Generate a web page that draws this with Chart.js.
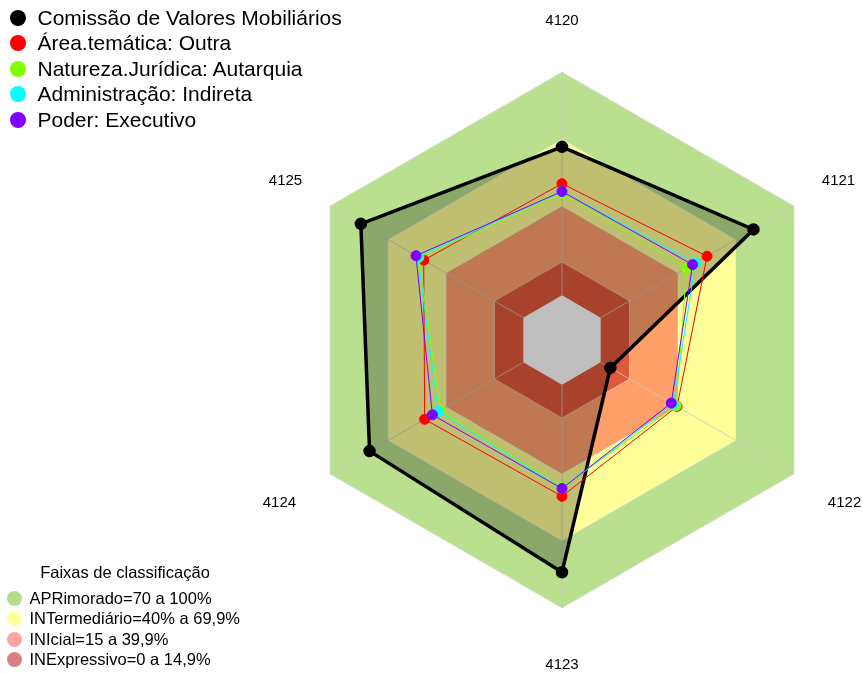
<!DOCTYPE html>
<html>
<head>
<meta charset="utf-8">
<title>Radar</title>
<script src="https://cdn.jsdelivr.net/npm/chart.js@4.4.0/dist/chart.umd.min.js"></script>
<style>
  html, body { margin: 0; padding: 0; background: #fff; overflow: hidden; }
  #wrap { position: relative; width: 863px; height: 673px; overflow: hidden; }
  #radar { position: absolute; left: 0; top: 0; }
  .legend { position: absolute; font-family: "Liberation Sans", Arial, sans-serif; color: #000; }
  .legend .row { display: flex; align-items: center; white-space: nowrap; }
  .legend .dot { border-radius: 50%; flex: none; }
  #seriesLegend { left: 10px; top: 5px; font-size: 21px; }
  #seriesLegend .row { height: 25.5px; }
  #seriesLegend .dot { width: 16px; height: 16px; margin-right: 11.5px; }
  #bandLegend { left: 7px; top: 562px; font-size: 16.5px; }
  #bandLegend .title { width: 236px; font-size: 16.5px; text-align: center; height: 26px; line-height: 20px; }
  #bandLegend .row { height: 20.5px; }
  #bandLegend .dot { width: 15px; height: 15px; margin-right: 7.5px; }
</style>
</head>
<body>
<div id="wrap">
  <!-- canvas um pouco mais alto que a janela: o rótulo de baixo fica na posição certa -->
  <canvas id="radar" width="863" height="677"></canvas>
  <div class="legend" id="seriesLegend"></div>
  <div class="legend" id="bandLegend"><div class="title">Faixas de classificação</div></div>
</div>
<script>
// eixos (sentido horário a partir do topo)
const axisLabels = ['4120', '4121', '4122', '4123', '4124', '4125'];

// séries
const seriesNames = [
    'Comissão de Valores Mobiliários',
    'Área.temática: Outra',
    'Natureza.Jurídica: Autarquia',
    'Administração: Indireta',
    'Poder: Executivo'
];
const seriesColors = ['#000000', '#ff0000', '#80ff00', '#00ffff', '#8000ff'];
const cvmValues = [66.5, 79, 5, 84, 79.5, 84];
const outraValues = [50, 55, 39.5, 50, 51, 51.5];
const autarquiaValues = [45.5, 44.5, 39, 46, 43, 54];
const indiretaValues = [46.5, 49, 37.5, 46.5, 44, 54.5];
const executivoValues = [46.5, 47.5, 36.5, 46.5, 47, 55.5];
const seriesValues = [cvmValues, outraValues, autarquiaValues, indiretaValues, executivoValues];

// faixas de classificação
const bandNames = ['APRimorado=70 a 100%', 'INTermediário=40% a 69,9%', 'INIcial=15 a 39,9%', 'INExpressivo=0 a 14,9%'];
const bandUpper = [100, 70, 40, 15];
const bandLower = [70, 40, 15, 0];
const bandFill = ['#b8e08e', '#ffff99', '#ffa06a', '#e0583a'];
const bandSwatch = ['#b3dc8b', '#ffff9c', '#ffa3a3', '#d98282'];

// legendas (html)
function addRows(el, names, colors) {
    names.forEach(function(name, i) {
        const row = document.createElement('div');
        row.className = 'row';
        row.innerHTML = '<span class="dot" style="background:' + colors[i] + '"></span><span>' + name + '</span>';
        el.appendChild(row);
    });
}
addRows(document.getElementById('seriesLegend'), seriesNames, seriesColors);
addRows(document.getElementById('bandLegend'), bandNames, bandSwatch);

const datasets = [];
seriesNames.forEach(function(name, i) {
    const isMain = i === 0;
    datasets.push({
        label: name,
        data: seriesValues[i],
        borderColor: seriesColors[i],
        backgroundColor: isMain ? 'rgba(0,0,0,0.25)' : seriesColors[i],
        pointBackgroundColor: seriesColors[i],
        pointBorderColor: seriesColors[i],
        borderWidth: isMain ? 3.5 : 1,
        pointRadius: isMain ? 4.5 : 5,
        fill: isMain ? 'start' : false,
        order: isMain ? 6 : 5 - i   // black drawn first, purple last (on top)
    });
});
bandNames.forEach(function(name, i) {
    datasets.push({
        label: name,
        data: axisLabels.map(function() { return bandUpper[i]; }),
        borderColor: 'rgba(225,225,225,0.8)',
        backgroundColor: bandFill[i],
        borderWidth: 1,
        pointRadius: 0,
        fill: { value: bandLower[i] },
        order: 10
    });
});

// linhas dos eixos desenhadas por cima das faixas
const firstBand = seriesNames.length;
const axisLines = {
    id: 'axisLines',
    afterDatasetDraw(chart, args) {
        if (args.index !== firstBand) return;
        const r = chart.scales.r;
        const ctx = chart.ctx;
        ctx.save();
        ctx.strokeStyle = 'rgba(200,200,200,0.8)';
        ctx.lineWidth = 1;
        for (let i = 0; i < axisLabels.length; i++) {
            const a = r.getPointPositionForValue(i, 0);
            const b = r.getPointPositionForValue(i, 100);
            ctx.beginPath();
            ctx.moveTo(a.x, a.y);
            ctx.lineTo(b.x, b.y);
            ctx.stroke();
        }
        ctx.restore();
    }
};

const labelPadding = [42.5, 32, 39, 48, 39, 32];

new Chart(document.getElementById('radar').getContext('2d'), {
    type: 'radar',
    data: { labels: axisLabels, datasets: datasets },
    options: {
        responsive: false,
        animation: false,
        layout: { padding: { left: 263, right: 0, top: 9, bottom: 0 } },
        plugins: { legend: { display: false }, tooltip: { enabled: false } },
        elements: { line: { tension: 0 } },
        scales: {
            r: {
                min: -20,
                max: 100,
                ticks: { display: false },
                grid: { display: false },
                angleLines: { display: false },
                pointLabels: {
                    color: '#000',
                    font: { family: '"Liberation Sans", Arial, sans-serif', size: 15 },
                    padding: function(ctx) { return labelPadding[ctx.index]; }
                }
            }
        }
    },
    plugins: [axisLines]
});
</script>
</body>
</html>
